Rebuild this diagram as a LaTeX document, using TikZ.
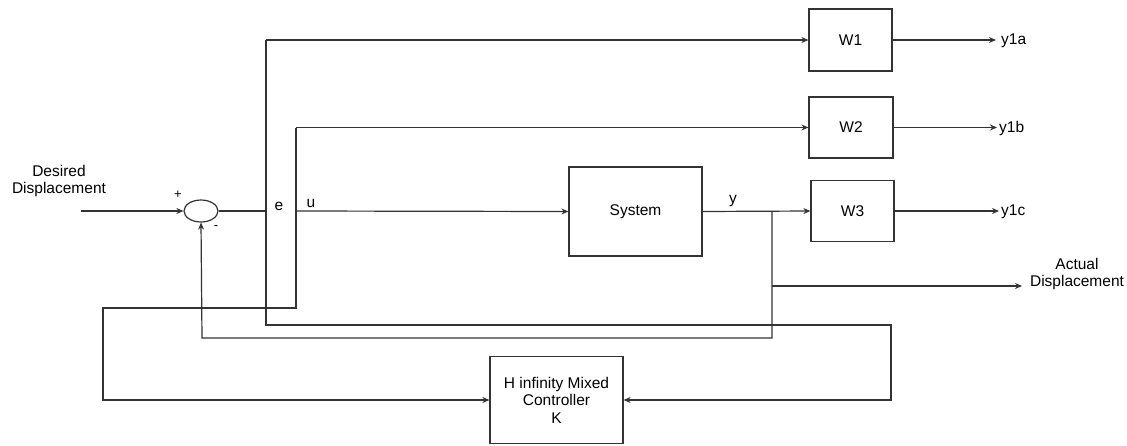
\documentclass[tikz,border=0pt]{standalone}
\usepackage{fontspec}
\setmainfont{Liberation Sans}
\usetikzlibrary{shapes.geometric,arrows.meta}
\begin{document}
\begin{tikzpicture}[x=1pt,y=-1pt,
  line/.style={draw=black!80,line width=1.2pt},
  arr/.style={line,-{Stealth[length=7pt,width=6pt]}},
  blk/.style={draw=black!80,line width=1.2pt,rectangle,inner sep=0pt,align=center,font=\fontsize{15.5}{17.5}\selectfont},
  lbl/.style={inner sep=0pt,font=\fontsize{15.5}{17.5}\selectfont},
  sml/.style={inner sep=0pt,font=\fontsize{13}{15}\selectfont}]
\useasboundingbox (0,0) rectangle (1127,445);
% blocks
\node[draw=black!80,line width=1.2pt,ellipse,minimum width=34pt,minimum height=22pt,inner sep=0pt] (sum) at (201,211) {};
\node[blk,minimum width=133pt,minimum height=89pt] (sys) at (635.5,211.5) {System};
\node[blk,minimum width=83pt,minimum height=62pt] (W1) at (850.5,40) {W1};
\node[blk,minimum width=84pt,minimum height=61pt] (W2) at (851,127.5) {W2};
\node[blk,minimum width=83pt,minimum height=61pt] (W3) at (852.5,211) {W3};
\node[blk,minimum width=133pt,minimum height=87pt] (K) at (556.5,400) {H infinity Mixed\\Controller\\K};
% labels
\node[lbl,align=center] (des) at (59,181) {Desired\\Displacement};
\node[lbl,align=center] (act) at (1077,274) {Actual\\Displacement};
\node[sml] (plus) at (178,195) {+};
\node[sml] (minus) at (216,228) {-};
\node[lbl] (elab) at (279,206) {e};
\node[lbl] (ulab) at (311,203) {u};
\node[lbl] (ylab) at (733,201) {y};
\node[lbl,anchor=west] (y1a) at (1001,41) {y1a};
\node[lbl,anchor=west] (y1b) at (999,128) {y1b};
\node[lbl,anchor=west] (y1c) at (1001,212) {y1c};
% coordinates
\coordinate (in) at (81,211);
\coordinate (eT) at (266,40);
\coordinate (eM) at (266,211);
\coordinate (eB) at (266,325);
\coordinate (eR) at (891,325);
\coordinate (eK) at (891,400);
\coordinate (uT) at (296,127.5);
\coordinate (uM) at (296,211);
\coordinate (uB) at (296,308);
\coordinate (uL) at (103,308);
\coordinate (uK) at (103,400);
\coordinate (yB) at (772,211);
\coordinate (yA) at (772,286);
\coordinate (yF) at (772,338);
\coordinate (yS) at (202,338);
\coordinate (actE) at (1022,286);
\coordinate (o1) at (996,40);
\coordinate (o2) at (997,127.5);
\coordinate (o3) at (999,211);
% connectors
\draw[arr] (in) -- (sum.west);
\draw[line] (sum.east) -- (eM);
\draw[arr] (eT) -- (W1.west);
\draw[arr] (eT) -- (eB) -- (eR) -- (eK) -- (K.east);
\draw[arr] (uT) -- (W2.west);
\draw[arr] (uT) -- (uB) -- (uL) -- (uK) -- (K.west);
\draw[arr] (uM) -- (sys.west);
\draw[arr] (sys.east) -- (W3.west);
\draw[arr] (yB) -- (yF) -- (yS) -- (sum.south);
\draw[arr] (yA) -- (actE);
\draw[arr] (W1.east) -- (o1);
\draw[arr] (W2.east) -- (o2);
\draw[arr] (W3.east) -- (o3);
\end{tikzpicture}
\end{document}
